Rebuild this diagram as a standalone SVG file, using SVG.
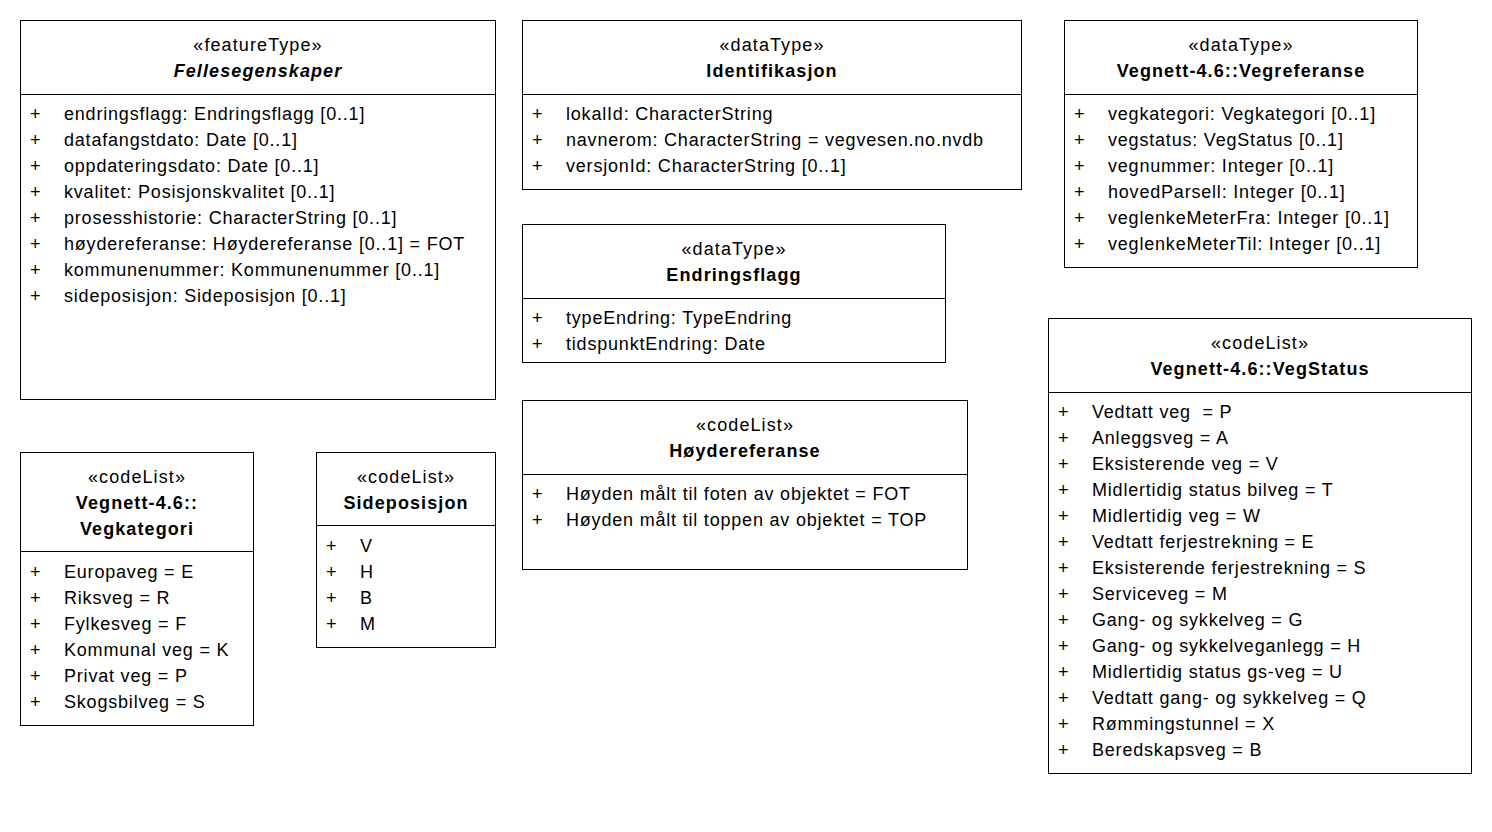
<svg xmlns="http://www.w3.org/2000/svg" width="1492" height="832" viewBox="0 0 1492 832">
  <style>
    .box { fill: #ffffff; stroke: #000000; stroke-width: 1; }
    .div { stroke: #000000; stroke-width: 1; }
    text { font-family: "Liberation Sans", Arial, sans-serif; font-size: 18px; fill: #000000; letter-spacing: 0.8px; }
    .st { text-anchor: middle; letter-spacing: 1.1px; }
    .nm { text-anchor: middle; font-weight: bold; letter-spacing: 1.1px; }
    .it { font-style: italic; }
  </style>
  <rect width="1492" height="832" fill="#ffffff"/>

  <g id="Fellesegenskaper">
    <rect class="box" x="20.5" y="20.5" width="475" height="379"/>
    <line class="div" x1="20.5" y1="94.5" x2="495.5" y2="94.5"/>
    <text class="st" x="258" y="51">«featureType»</text>
    <text class="nm it" x="258" y="77">Fellesegenskaper</text>
    <g>
      <text x="30" y="120">+</text><text x="64" y="120">endringsflagg: Endringsflagg [0..1]</text>
      <text x="30" y="146">+</text><text x="64" y="146">datafangstdato: Date [0..1]</text>
      <text x="30" y="172">+</text><text x="64" y="172">oppdateringsdato: Date [0..1]</text>
      <text x="30" y="198">+</text><text x="64" y="198">kvalitet: Posisjonskvalitet [0..1]</text>
      <text x="30" y="224">+</text><text x="64" y="224">prosesshistorie: CharacterString [0..1]</text>
      <text x="30" y="250">+</text><text x="64" y="250">høydereferanse: Høydereferanse [0..1] = FOT</text>
      <text x="30" y="276">+</text><text x="64" y="276">kommunenummer: Kommunenummer [0..1]</text>
      <text x="30" y="302">+</text><text x="64" y="302">sideposisjon: Sideposisjon [0..1]</text>
    </g>
  </g>

  <g id="Identifikasjon">
    <rect class="box" x="522.5" y="20.5" width="499" height="169"/>
    <line class="div" x1="522.5" y1="94.5" x2="1021.5" y2="94.5"/>
    <text class="st" x="772" y="51">«dataType»</text>
    <text class="nm" x="772" y="77">Identifikasjon</text>
    <text x="532" y="120">+</text><text x="566" y="120">lokalId: CharacterString</text>
    <text x="532" y="146">+</text><text x="566" y="146">navnerom: CharacterString = vegvesen.no.nvdb</text>
    <text x="532" y="172">+</text><text x="566" y="172">versjonId: CharacterString [0..1]</text>
  </g>

  <g id="Vegreferanse">
    <rect class="box" x="1064.5" y="20.5" width="353" height="247"/>
    <line class="div" x1="1064.5" y1="94.5" x2="1417.5" y2="94.5"/>
    <text class="st" x="1241" y="51">«dataType»</text>
    <text class="nm" x="1241" y="77">Vegnett-4.6::Vegreferanse</text>
    <text x="1074" y="120">+</text><text x="1108" y="120">vegkategori: Vegkategori [0..1]</text>
    <text x="1074" y="146">+</text><text x="1108" y="146">vegstatus: VegStatus [0..1]</text>
    <text x="1074" y="172">+</text><text x="1108" y="172">vegnummer: Integer [0..1]</text>
    <text x="1074" y="198">+</text><text x="1108" y="198">hovedParsell: Integer [0..1]</text>
    <text x="1074" y="224">+</text><text x="1108" y="224">veglenkeMeterFra: Integer [0..1]</text>
    <text x="1074" y="250">+</text><text x="1108" y="250">veglenkeMeterTil: Integer [0..1]</text>
  </g>

  <g id="Endringsflagg">
    <rect class="box" x="522.5" y="224.5" width="423" height="138"/>
    <line class="div" x1="522.5" y1="298.5" x2="945.5" y2="298.5"/>
    <text class="st" x="734" y="255">«dataType»</text>
    <text class="nm" x="734" y="281">Endringsflagg</text>
    <text x="532" y="324">+</text><text x="566" y="324">typeEndring: TypeEndring</text>
    <text x="532" y="350">+</text><text x="566" y="350">tidspunktEndring: Date</text>
  </g>

  <g id="Hoydereferanse">
    <rect class="box" x="522.5" y="400.5" width="445" height="169"/>
    <line class="div" x1="522.5" y1="474.5" x2="967.5" y2="474.5"/>
    <text class="st" x="745" y="431">«codeList»</text>
    <text class="nm" x="745" y="457">Høydereferanse</text>
    <text x="532" y="500">+</text><text x="566" y="500">Høyden målt til foten av objektet = FOT</text>
    <text x="532" y="526">+</text><text x="566" y="526">Høyden målt til toppen av objektet = TOP</text>
  </g>

  <g id="VegStatus">
    <rect class="box" x="1048.5" y="318.5" width="423" height="455"/>
    <line class="div" x1="1048.5" y1="392.5" x2="1471.5" y2="392.5"/>
    <text class="st" x="1260" y="349">«codeList»</text>
    <text class="nm" x="1260" y="375">Vegnett-4.6::VegStatus</text>
    <text x="1058" y="418">+</text><text x="1092" y="418" xml:space="preserve">Vedtatt veg  = P</text>
    <text x="1058" y="444">+</text><text x="1092" y="444">Anleggsveg = A</text>
    <text x="1058" y="470">+</text><text x="1092" y="470">Eksisterende veg = V</text>
    <text x="1058" y="496">+</text><text x="1092" y="496">Midlertidig status bilveg = T</text>
    <text x="1058" y="522">+</text><text x="1092" y="522">Midlertidig veg = W</text>
    <text x="1058" y="548">+</text><text x="1092" y="548">Vedtatt ferjestrekning = E</text>
    <text x="1058" y="574">+</text><text x="1092" y="574">Eksisterende ferjestrekning = S</text>
    <text x="1058" y="600">+</text><text x="1092" y="600">Serviceveg = M</text>
    <text x="1058" y="626">+</text><text x="1092" y="626">Gang- og sykkelveg = G</text>
    <text x="1058" y="652">+</text><text x="1092" y="652">Gang- og sykkelveganlegg = H</text>
    <text x="1058" y="678">+</text><text x="1092" y="678">Midlertidig status gs-veg = U</text>
    <text x="1058" y="704">+</text><text x="1092" y="704">Vedtatt gang- og sykkelveg = Q</text>
    <text x="1058" y="730">+</text><text x="1092" y="730">Rømmingstunnel = X</text>
    <text x="1058" y="756">+</text><text x="1092" y="756">Beredskapsveg = B</text>
  </g>

  <g id="Vegkategori">
    <rect class="box" x="20.5" y="452.5" width="233" height="273"/>
    <line class="div" x1="20.5" y1="551.5" x2="253.5" y2="551.5"/>
    <text class="st" x="137" y="483">«codeList»</text>
    <text class="nm" x="137" y="509">Vegnett-4.6::</text>
    <text class="nm" x="137" y="535">Vegkategori</text>
    <text x="30" y="578">+</text><text x="64" y="578">Europaveg = E</text>
    <text x="30" y="604">+</text><text x="64" y="604">Riksveg = R</text>
    <text x="30" y="630">+</text><text x="64" y="630">Fylkesveg = F</text>
    <text x="30" y="656">+</text><text x="64" y="656">Kommunal veg = K</text>
    <text x="30" y="682">+</text><text x="64" y="682">Privat veg = P</text>
    <text x="30" y="708">+</text><text x="64" y="708">Skogsbilveg = S</text>
  </g>

  <g id="Sideposisjon">
    <rect class="box" x="316.5" y="452.5" width="179" height="195"/>
    <line class="div" x1="316.5" y1="525.5" x2="495.5" y2="525.5"/>
    <text class="st" x="406" y="483">«codeList»</text>
    <text class="nm" x="406" y="509">Sideposisjon</text>
    <text x="326" y="552">+</text><text x="360" y="552">V</text>
    <text x="326" y="578">+</text><text x="360" y="578">H</text>
    <text x="326" y="604">+</text><text x="360" y="604">B</text>
    <text x="326" y="630">+</text><text x="360" y="630">M</text>
  </g>

  <g id="connectors"></g>
</svg>
